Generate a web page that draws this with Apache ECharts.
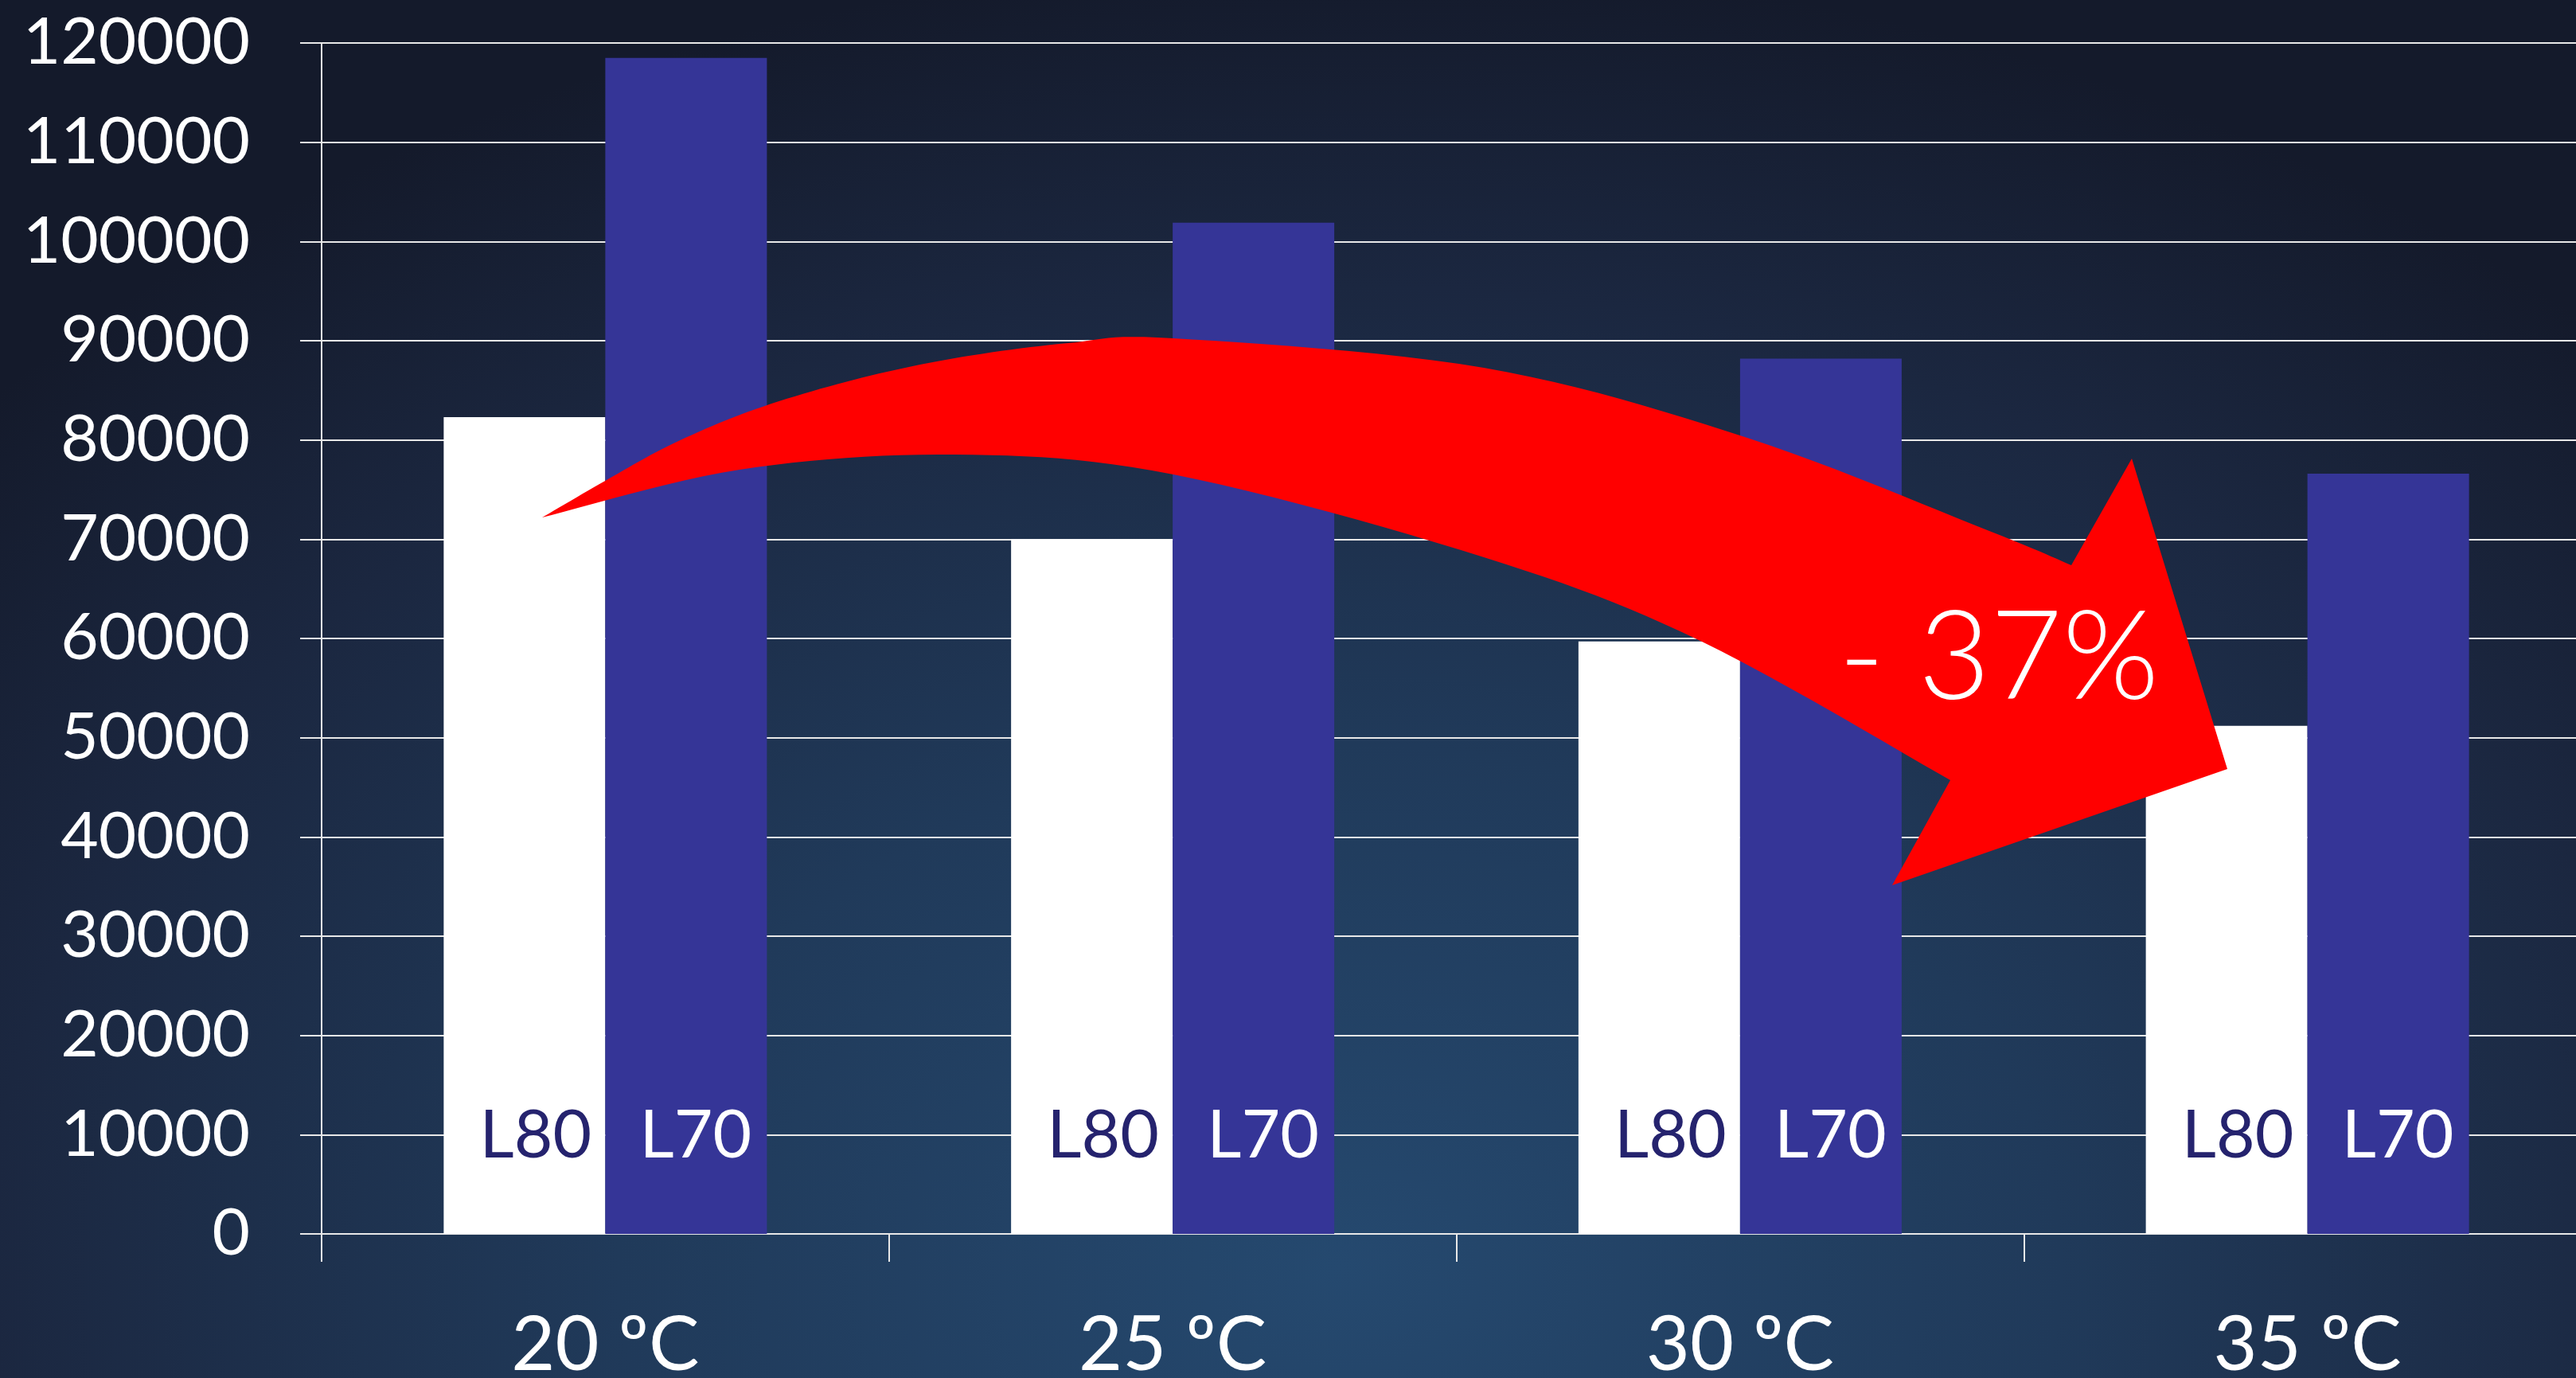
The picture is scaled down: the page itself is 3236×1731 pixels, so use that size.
<!DOCTYPE html>
<html>
<head>
<meta charset="utf-8">
<script src="https://cdn.jsdelivr.net/npm/echarts@6/dist/echarts.min.js"></script>
<style>
html, body { margin: 0; padding: 0; }
#main {
    width: 3236px;
    height: 1731px;
    background: radial-gradient(ellipse 70% 95% at 52% 92%, #25496f 0%, #203a5a 40%, #1b2740 75%, #141a2b 100%);
}
</style>
</head>
<body>
<div id="main"></div>
<script>
// 数据
var categories = ['20 ºC', '25 ºC', '30 ºC', '35 ºC'];
var l80Values = [82300, 70000, 59700, 51200];
var l70Values = [118500, 101900, 88200, 76600];
var yMin = 0;
var yMax = 120000;
var yStep = 10000;
var arrowText = '- 37%';

// 红色箭头轮廓 (像素)
var arrowOuter = [[681, 650], [762, 603], [846, 557], [949, 514], [1073, 477], [1199, 450], [1342, 431], [1474, 425],
    [1864, 462], [2195, 550], [2499, 667], [2602, 710]];
var arrowHead = [[2678, 576], [2798, 966], [2377, 1112]];
var arrowInner = [[2450, 980], [2136, 805], [1864, 700], [1474, 596], [1200, 571], [929, 590], [681, 650]];

function spline(pts, steps) {
    var out = [];
    for (var i = 0; i < pts.length - 1; i++) {
        var p0 = pts[Math.max(i - 1, 0)], p1 = pts[i], p2 = pts[i + 1], p3 = pts[Math.min(i + 2, pts.length - 1)];
        for (var s = 0; s < steps; s++) {
            var t = s / steps, t2 = t * t, t3 = t2 * t;
            var pt = [];
            for (var k = 0; k < 2; k++) {
                pt.push(0.5 * (2 * p1[k] + (-p0[k] + p2[k]) * t +
                    (2 * p0[k] - 5 * p1[k] + 4 * p2[k] - p3[k]) * t2 +
                    (-p0[k] + 3 * p1[k] - 3 * p2[k] + p3[k]) * t3));
            }
            out.push(pt);
        }
    }
    out.push(pts[pts.length - 1]);
    return out;
}

var arrowPoints = spline(arrowOuter, 12).concat(arrowHead, spline(arrowInner, 12));

var myChart = echarts.init(document.getElementById('main'));

var labelFont = 'Lato, "Open Sans", sans-serif';

var option = {
    animation: false,
    textStyle: { fontFamily: labelFont },
    grid: {
        left: 404,
        width: 2851,
        top: 54,
        bottom: 181,
        outerBoundsMode: 'none'
    },
    xAxis: {
        type: 'category',
        data: categories,
        axisLine: { lineStyle: { color: '#e8e8e8', width: 2 } },
        axisTick: { show: true, length: 35, lineStyle: { color: '#e8e8e8', width: 2 } },
        axisLabel: {
            color: '#ffffff',
            fontSize: 95,
            margin: 93,
            fontFamily: labelFont
        }
    },
    yAxis: {
        type: 'value',
        min: yMin,
        max: yMax,
        interval: yStep,
        axisLine: { show: true, lineStyle: { color: '#e8e8e8', width: 2 } },
        axisTick: { show: true, length: 27, lineStyle: { color: '#e8e8e8', width: 2 } },
        splitLine: { lineStyle: { color: '#e8e8e8', width: 2 } },
        axisLabel: {
            color: '#ffffff',
            fontSize: 82,
            margin: 90,
            fontFamily: labelFont,
            formatter: function (v) { return String(v); }
        }
    },
    series: [
        {
            name: 'L80',
            type: 'bar',
            data: l80Values,
            barWidth: 203,
            barGap: '0%',
            itemStyle: { color: '#ffffff' },
            label: {
                show: true,
                position: 'insideBottom',
                distance: 81,
                offset: [14, 0],
                formatter: '{a}',
                color: '#25236e',
                fontSize: 84,
                fontFamily: labelFont
            }
        },
        {
            name: 'L70',
            type: 'bar',
            data: l70Values,
            barWidth: 203,
            barGap: '0%',
            itemStyle: { color: '#353597' },
            label: {
                show: true,
                position: 'insideBottom',
                distance: 81,
                offset: [12, 0],
                formatter: '{a}',
                color: '#ffffff',
                fontSize: 84,
                fontFamily: labelFont
            }
        }
    ],
    graphic: [
        {
            type: 'polygon',
            z: 100,
            shape: { points: arrowPoints },
            style: { fill: '#ff0000' }
        },
        {
            type: 'text',
            z: 101,
            x: 2511,
            y: 828,
            style: {
                text: arrowText,
                fill: '#ffffff',
                fontSize: 156,
                fontWeight: 300,
                fontFamily: labelFont,
                align: 'center',
                verticalAlign: 'middle',
                textAlign: 'center',
                textVerticalAlign: 'middle'
            }
        }
    ]
};

myChart.setOption(option);
</script>
</body>
</html>
